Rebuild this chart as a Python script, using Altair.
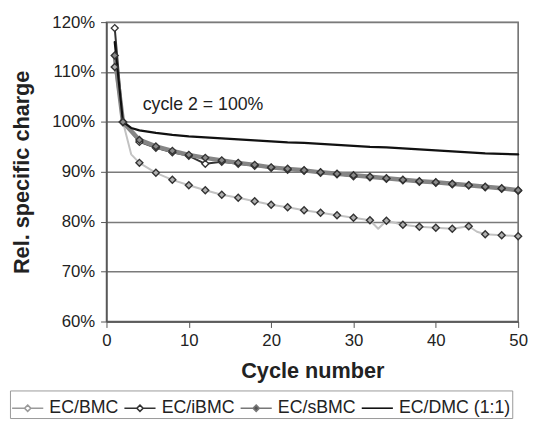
import altair as alt
import pandas as pd

series_names = ["EC/BMC", "EC/iBMC", "EC/sBMC", "EC/DMC (1:1)"]

bmc_cycles = [1, 2, 3, 4, 6, 8, 10, 12, 14, 16, 18, 20, 22, 24, 26, 28, 30, 32, 33,
              34, 36, 38, 40, 42, 44, 45, 46, 48, 50]
bmc_values = [111.0, 100.0, 93.5, 91.8, 89.8, 88.4, 87.3, 86.3, 85.4, 84.8, 84.1, 83.4,
              82.9, 82.3, 81.8, 81.3, 80.8, 80.3, 78.6, 80.2, 79.4, 79.0, 78.8, 78.6,
              79.1, 78.0, 77.5, 77.3, 77.1]

even_cycles = [1, 2, 4, 6, 8, 10, 12, 14, 16, 18, 20, 22, 24, 26, 28, 30, 32, 34, 36,
               38, 40, 42, 44, 46, 48, 50]
ibmc_values = [118.8, 100.0, 96.0, 94.8, 93.9, 93.2, 91.6, 92.0, 91.6, 91.2, 90.8, 90.4,
               90.2, 89.8, 89.5, 89.1, 88.9, 88.6, 88.3, 88.0, 87.8, 87.5, 87.3, 86.9,
               86.6, 86.2]
sbmc_values = [113.3, 100.0, 96.4, 95.1, 94.2, 93.4, 92.8, 92.3, 91.8, 91.4, 90.9, 90.6,
               90.3, 89.9, 89.6, 89.3, 89.0, 88.7, 88.4, 88.1, 87.9, 87.6, 87.3, 87.0,
               86.7, 86.3]

dmc_cycles = [1, 2, 3, 4, 6, 8, 10, 12, 14, 16, 18, 20, 22, 24, 26, 28, 30, 32, 34, 36,
              38, 40, 42, 44, 46, 48, 50]
dmc_values = [116.0, 100.0, 98.8, 98.3, 97.8, 97.4, 97.1, 96.9, 96.7, 96.5, 96.3, 96.1,
              95.9, 95.8, 95.6, 95.4, 95.2, 95.0, 94.9, 94.7, 94.5, 94.3, 94.1, 93.9,
              93.7, 93.6, 93.5]

x_ticks = [0, 10, 20, 30, 40, 50]
y_ticks = [60, 70, 80, 90, 100, 110, 120]

annot_x = [4.4]
annot_y = [103.4]
annot_text = ["cycle 2 = 100%"]

rows = []
for name, cyc, val in [
    (series_names[0], bmc_cycles, bmc_values),
    (series_names[1], even_cycles, ibmc_values),
    (series_names[2], even_cycles, sbmc_values),
    (series_names[3], dmc_cycles, dmc_values),
]:
    for c, v in zip(cyc, val):
        rows.append({"series": name, "cycle": c, "value": v,
                     "marker": (name != series_names[3]) and (c == 1 or c % 2 == 0)})
df = pd.DataFrame(rows)

line_colors = ["#c2c2c2", "#333333", "#858585", "#111111"]
line_widths = [2, 2, 4.5, 2.2]
marker_fill = ["#b0b0b0", "#ffffff", "#8a8a8a"]
legend_fill = ["#ffffff", "#ffffff", "#555555", "transparent"]
legend_stroke = ["#9a9a9a", "#333333", "#777777", "#111111"]

FONT = "Liberation Sans"
DIAMOND_LINE = "M-1,0H-0.2M0.2,0H1M0,-0.2L0.2,0L0,0.2L-0.2,0Z"
PLAIN_LINE = "M-1,0H1"
legend_shapes = [DIAMOND_LINE, DIAMOND_LINE, DIAMOND_LINE, PLAIN_LINE]

x_enc = alt.X("cycle:Q", scale=alt.Scale(domain=[0, 50], nice=False),
              axis=alt.Axis(values=x_ticks, title="Cycle number", grid=False,
                            tickSize=6, labelPadding=5, labelFontSize=17,
                            titleFontSize=22, titleFontWeight="bold", titlePadding=13,
                            labelColor="#222222", titleColor="#222222",
                            domainColor="#555555", tickColor="#555555",
                            domainWidth=1.5, labelFlush=False))
y_enc = alt.Y("value:Q", scale=alt.Scale(domain=[60, 120], nice=False),
              axis=alt.Axis(values=y_ticks, labelExpr="datum.value + '%'",
                            title="Rel. specific charge", grid=True,
                            gridColor="#7a7a7a", gridWidth=1.5,
                            tickSize=6, labelPadding=6, labelFontSize=17,
                            titleFontSize=22, titleFontWeight="bold", titlePadding=19,
                            labelColor="#222222", titleColor="#222222",
                            domainColor="#555555", tickColor="#555555",
                            domainWidth=1.5))

legend = alt.Legend(
    title=None, orient="none", legendX=-98, legendY=374, direction="horizontal",
    columns=4, gridAlign="none", symbolSize=1000, symbolStrokeWidth=1.6,
    labelFont=FONT, labelFontSize=18, labelColor="#222222", labelOffset=5,
    columnPadding=1, padding=1, strokeColor="#999999", labelLimit=300,
)

layers = []
for i, name in enumerate(series_names):
    layers.append(
        alt.Chart(df).transform_filter(f"datum.series === '{name}'").mark_line(
            color=line_colors[i], strokeWidth=line_widths[i],
            strokeCap="round", strokeJoin="round"
        ).encode(x=x_enc, y=y_enc, order=alt.Order("cycle:Q"))
    )
for i, name in enumerate(series_names[:3]):
    layers.append(
        alt.Chart(df).transform_filter(
            f"datum.marker && datum.series === '{name}'"
        ).mark_point(
            shape="diamond", filled=True, size=50, stroke="#333333",
            strokeWidth=1.4, opacity=1, fill=marker_fill[i]
        ).encode(x="cycle:Q", y="value:Q")
    )

# legend-only layer: one row per series, placed below the visible domain and clipped
legend_layer = alt.Chart(df).transform_filter("datum.cycle === 2").transform_calculate(
    hidden="0"
).mark_point(strokeWidth=1.6, opacity=1, clip=True).encode(
    x="cycle:Q", y=alt.Y("hidden:Q"),
    shape=alt.Shape("series:N", scale=alt.Scale(domain=series_names, range=legend_shapes),
                    legend=legend),
    fill=alt.Fill("series:N", scale=alt.Scale(domain=series_names, range=legend_fill),
                  legend=legend),
    stroke=alt.Stroke("series:N", scale=alt.Scale(domain=series_names, range=legend_stroke),
                      legend=legend),
)

annot_df = pd.DataFrame({"x": annot_x, "y": annot_y, "t": annot_text})
annot = alt.Chart(annot_df).mark_text(
    align="left", baseline="middle", fontSize=18, font=FONT, color="#222222"
).encode(x="x:Q", y="y:Q", text="t:N")

chart = alt.layer(*layers, annot, legend_layer).properties(
    width=418, height=304,
    autosize=alt.AutoSizeParams(type="none"),
    padding={"left": 100, "top": 11, "right": 10, "bottom": 120},
).configure(font=FONT).configure_view(stroke="#666666", strokeWidth=1.5)

chart.save("out.html", embed_options={"renderer": "svg", "actions": False})
